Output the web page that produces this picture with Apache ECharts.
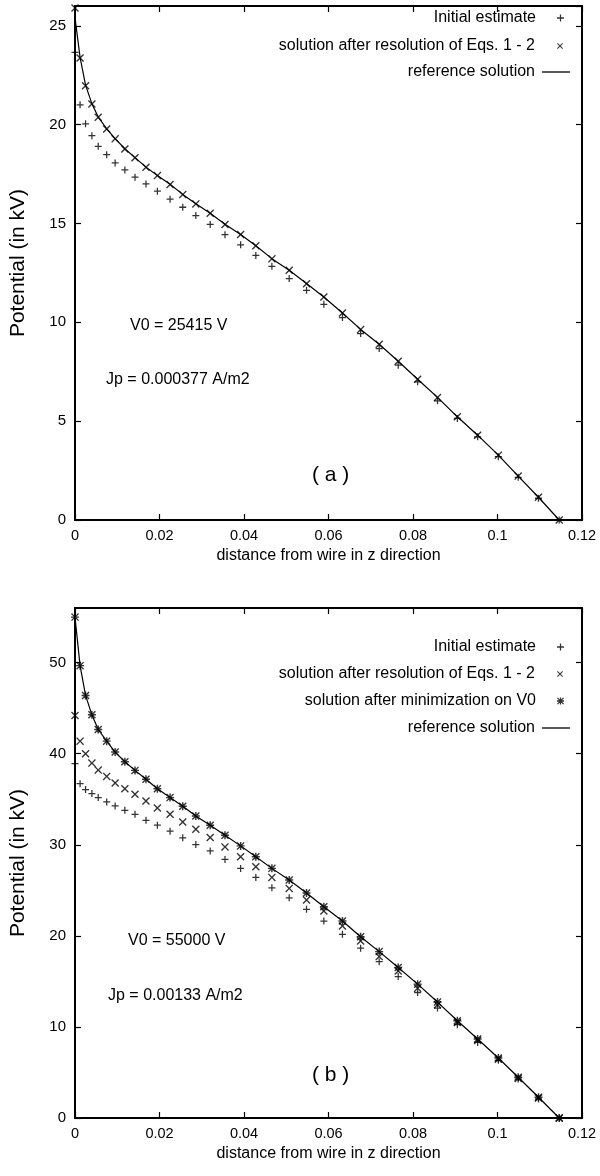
<!DOCTYPE html>
<html><head><meta charset="utf-8">
<script src="https://cdn.jsdelivr.net/npm/echarts@6/dist/echarts.min.js"></script>
<style>html,body{margin:0;padding:0;background:#fff}#c{width:600px;height:1176px}</style>
</head><body><div id="c"></div>
<script>
// distance from wire (m) of the computation nodes (same grid in both panels)
const zPos = [0, 0.0012, 0.0025, 0.0040, 0.0055, 0.0075, 0.0095, 0.0118, 0.0142, 0.0168, 0.0195, 0.0225, 0.0255, 0.0286, 0.0320, 0.0355, 0.0392, 0.0428, 0.0466, 0.0507, 0.0548, 0.0589, 0.0633, 0.0676, 0.0720, 0.0765, 0.0811, 0.0858, 0.0905, 0.0953, 0.1002, 0.1049, 0.1097, 0.1146];

// panel (a) potentials, kV
const initialA   = [23.65, 21.0, 20.04, 19.44, 18.9, 18.48, 18.06, 17.71, 17.34, 17.0, 16.63, 16.23, 15.82, 15.4, 14.95, 14.43, 13.92, 13.38, 12.83, 12.21, 11.62, 10.91, 10.24, 9.43, 8.67, 7.83, 6.99, 6.03, 5.14, 4.21, 3.2, 2.16, 1.1, 0];
const resolvedA  = [25.9, 23.37, 21.97, 21.04, 20.37, 19.78, 19.28, 18.77, 18.32, 17.84, 17.42, 16.97, 16.46, 15.99, 15.52, 14.95, 14.44, 13.87, 13.21, 12.63, 11.95, 11.28, 10.47, 9.63, 8.89, 8.03, 7.12, 6.20, 5.22, 4.29, 3.28, 2.22, 1.15, 0];
const referenceA = [25.415, 23.4, 22.0, 21.06, 20.38, 19.79, 19.29, 18.78, 18.33, 17.85, 17.43, 16.98, 16.47, 16.0, 15.52, 14.96, 14.44, 13.87, 13.22, 12.63, 11.96, 11.28, 10.47, 9.64, 8.89, 8.03, 7.12, 6.2, 5.22, 4.29, 3.28, 2.22, 1.15, 0];

// panel (b) potentials, kV
const initialB   = [38.9, 36.71, 36.06, 35.62, 35.18, 34.7, 34.26, 33.79, 33.35, 32.69, 32.15, 31.49, 30.76, 30.03, 29.33, 28.39, 27.4, 26.42, 25.28, 24.18, 22.91, 21.63, 20.17, 18.64, 17.17, 15.53, 13.78, 12.07, 10.24, 8.3, 6.33, 4.29, 2.1, 0];
const resolvedB  = [44.2, 41.38, 40.0, 38.97, 38.2, 37.51, 36.78, 36.16, 35.54, 34.81, 34.04, 33.35, 32.51, 31.71, 30.8, 29.77, 28.68, 27.58, 26.42, 25.21, 23.93, 22.73, 21.08, 19.44, 17.72, 16.15, 14.26, 12.43, 10.49, 8.52, 6.45, 4.35, 2.2, 0];
const minimizedB = [55.0, 49.67, 46.4, 44.27, 42.66, 41.38, 40.18, 39.12, 38.17, 37.2, 36.16, 35.18, 34.23, 33.17, 32.15, 31.05, 29.88, 28.68, 27.41, 26.13, 24.7, 23.2, 21.63, 19.91, 18.27, 16.52, 14.7, 12.73, 10.68, 8.67, 6.59, 4.47, 2.28, 0];
const referenceB = [55.0, 49.67, 46.4, 44.27, 42.66, 41.38, 40.18, 39.12, 38.17, 37.2, 36.16, 35.18, 34.23, 33.17, 32.15, 31.05, 29.88, 28.68, 27.41, 26.13, 24.7, 23.2, 21.63, 19.91, 18.27, 16.52, 14.7, 12.73, 10.68, 8.67, 6.59, 4.47, 2.28, 0];

// ticks
const xTicks  = [0, 0.02, 0.04, 0.06, 0.08, 0.1, 0.12];
const yTicksA = [0, 5, 10, 15, 20, 25];
const yTicksB = [0, 10, 20, 30, 40, 50];

// texts
const seriesNames = ['Initial estimate', 'solution after resolution of Eqs. 1 - 2', 'solution after minimization on V0', 'reference solution'];
const xName = 'distance from wire in z direction';
const yName = 'Potential (in kV)';
const notesA = ['V0 = 25415 V', 'Jp = 0.000377 A/m2', '( a )'];
const notesB = ['V0 = 55000 V', 'Jp = 0.00133 A/m2', '( b )'];

const FONT = '"Liberation Sans", Arial, Helvetica, sans-serif';
const INK = '#000';
const PLUS  = 'path://M4.1,0H5.9V4.1H10V5.9H5.9V10H4.1V5.9H0V4.1H4.1Z';
const CROSS = 'path://M0,1.2L1.2,0L5,3.8L8.8,0L10,1.2L6.2,5L10,8.8L8.8,10L5,6.2L1.2,10L0,8.8L3.8,5Z';
const STAR  = 'path://M0,1.2L1.2,0L5,3.8L8.8,0L10,1.2L6.2,5L10,8.8L8.8,10L5,6.2L1.2,10L0,8.8L3.8,5Z M4.1,0H5.9V10H4.1Z M0,4.1H10V5.9H0Z';
const LINEICON = 'path://M0,0H28V1.3H0Z';

const zip = (xs, ys) => xs.map((x, i) => [x, ys[i]]);
const fmtX = v => (v === 0 ? '0' : String(+v.toFixed(2)));

function xAxes(grid, isTop) {
  return {
    gridIndex: grid, type: 'value', position: isTop ? 'top' : 'bottom',
    min: xTicks[0], max: xTicks[xTicks.length - 1], interval: xTicks[1] - xTicks[0],
    axisLine: { show: true, onZero: false, lineStyle: { color: INK, width: 2 } },
    axisTick: { show: true, inside: true, length: 6, lineStyle: { color: INK, width: 1.2 } },
    axisLabel: { show: !isTop, color: INK, fontSize: 14.5, fontFamily: FONT, margin: 8, formatter: fmtX },
    splitLine: { show: false },
    name: isTop ? '' : xName, nameLocation: 'middle', nameGap: 28,
    nameTextStyle: { color: INK, fontSize: 16, fontFamily: FONT }
  };
}
function yAxes(grid, ticks, top, isRight) {
  return {
    gridIndex: grid, type: 'value', position: isRight ? 'right' : 'left',
    min: ticks[0], max: top, interval: ticks[1] - ticks[0],
    axisLine: { show: true, onZero: false, lineStyle: { color: INK, width: 2 } },
    axisTick: { show: true, inside: true, length: 6, lineStyle: { color: INK, width: 1.2 } },
    axisLabel: { show: !isRight, color: INK, fontSize: 15, fontFamily: FONT, margin: 9, showMaxLabel: false,
                 formatter: v => (ticks.indexOf(v) >= 0 ? String(v) : '') },
    splitLine: { show: false },
    name: isRight ? '' : yName, nameLocation: 'middle', nameGap: 46, nameRotate: 90,
    nameTextStyle: { color: INK, fontSize: 21, fontFamily: FONT }
  };
}
function legendItem(name, icon, w, h, right, top, pad) {
  return {
    data: [{ name, icon }], right, top, orient: 'horizontal', align: 'right', padding: 0,
    itemWidth: w, itemHeight: h, selectedMode: false,
    formatter: n => '{t|' + n + '}',
    textStyle: { rich: { t: { fontFamily: FONT, fontSize: 16, color: INK, padding: [0, pad, 0, 0] } } }
  };
}
function note(text, left, top, size) {
  return { type: 'text', left, top, style: { text, fontFamily: FONT, fontSize: size, fill: INK } };
}
function scatter(name, xi, yi, data, symbol, size) {
  return { type: 'scatter', name, xAxisIndex: xi, yAxisIndex: yi, data, symbol, symbolSize: size,
           itemStyle: { color: INK }, z: 3, emphasis: { disabled: true } };
}
function line(name, xi, yi, data) {
  return { type: 'line', name, xAxisIndex: xi, yAxisIndex: yi, data, symbol: 'none', smooth: false,
           lineStyle: { color: INK, width: 1.2 }, itemStyle: { color: INK }, z: 2, emphasis: { disabled: true } };
}

const option = {
  backgroundColor: '#fff',
  animation: false,
  grid: [
    { left: 75, right: 18, top: 6, height: 514 },
    { left: 75, right: 18, top: 608, height: 510 }
  ],
  xAxis: [xAxes(0, false), xAxes(0, true), xAxes(1, false), xAxes(1, true)],
  yAxis: [yAxes(0, yTicksA, 26, false), yAxes(0, yTicksA, 26, true), yAxes(1, yTicksB, 56, false), yAxes(1, yTicksB, 56, true)],
  legend: [
    legendItem(seriesNames[0], PLUS, 7, 7, 36, 10, 16),
    legendItem(seriesNames[1], CROSS, 6, 6, 37, 38, 17),
    legendItem(seriesNames[3], LINEICON, 28, 1.3, 30, 64, 2),
    legendItem(seriesNames[0], PLUS, 7, 7, 36, 639, 16),
    legendItem(seriesNames[1], CROSS, 6, 6, 37, 666, 17),
    legendItem(seriesNames[2], STAR, 7, 7, 36, 693, 16),
    legendItem(seriesNames[3], LINEICON, 28, 1.3, 30, 720, 2)
  ],
  graphic: [
    note(notesA[0], 130, 318, 16), note(notesA[1], 106, 372, 16), note(notesA[2], 312, 465, 21),
    note(notesB[0], 128, 933, 16), note(notesB[1], 108, 988, 16), note(notesB[2], 312, 1065, 21)
  ],
  series: [
    line(seriesNames[3], 0, 0, zip(zPos, referenceA)),
    scatter(seriesNames[0], 0, 0, zip(zPos, initialA), PLUS, 7),
    scatter(seriesNames[1], 0, 0, zip(zPos, resolvedA), CROSS, 8),
    line(seriesNames[3], 2, 2, zip(zPos, referenceB)),
    scatter(seriesNames[0], 2, 2, zip(zPos, initialB), PLUS, 7),
    scatter(seriesNames[1], 2, 2, zip(zPos, resolvedB), CROSS, 8),
    scatter(seriesNames[2], 2, 2, zip(zPos, minimizedB), STAR, 8)
  ]
};
const chart = echarts.init(document.getElementById('c'), null, { renderer: 'canvas' });
chart.setOption(option);
</script>
</body></html>
